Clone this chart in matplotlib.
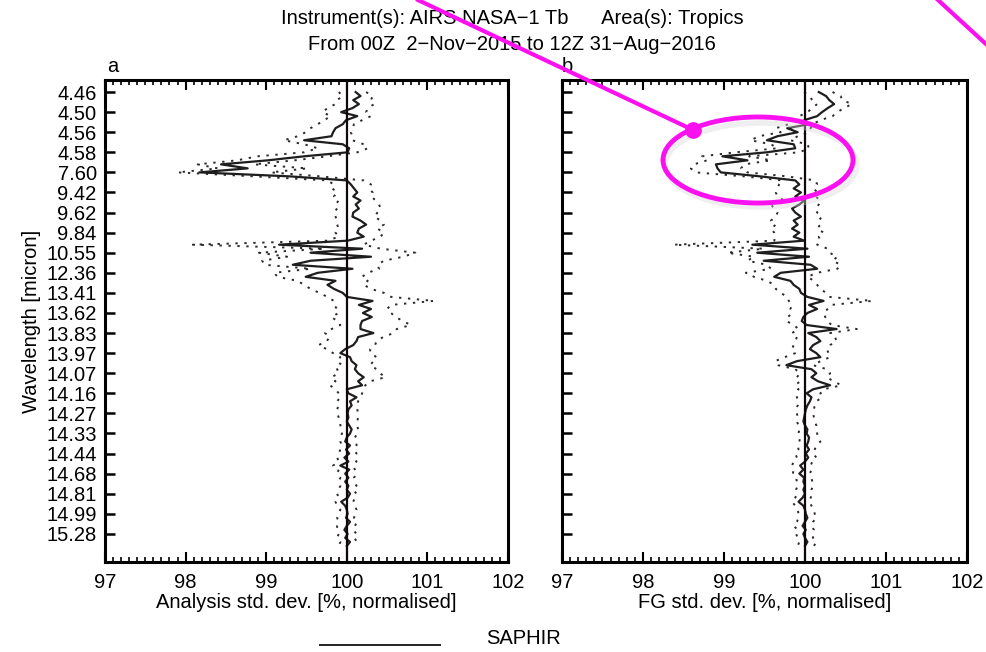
import matplotlib
matplotlib.use("Agg")
import matplotlib.pyplot as plt
from matplotlib.ticker import MultipleLocator, FixedLocator
from matplotlib.patches import Ellipse
from matplotlib.lines import Line2D
import numpy as np

plt.rcParams['font.family'] = ['Liberation Sans', 'DejaVu Sans']

# ---- data ----
tick_labels = ["4.46", "4.50", "4.56", "4.58", "7.60", "9.42", "9.62", "9.84", "10.55",
               "12.36", "13.41", "13.62", "13.83", "13.97", "14.07", "14.16", "14.27",
               "14.33", "14.44", "14.68", "14.81", "14.99", "15.28"]

an_mean = [100.11, 100.17, 100.08, 100.15, 100.07, 99.93, 100.13, 99.99, 99.95, 99.86,
           99.83, 99.81, 99.47, 99.95, 100.03, 100.01, 99.47, 99.02, 98.44, 98.77,
           98.17, 99.30, 100.00, 100.05, 100.09, 100.13, 100.08, 100.17, 100.11, 100.15,
           100.08, 100.07, 100.17, 100.24, 100.15, 100.13, 100.21, 100.01, 99.16, 100.19,
           99.55, 100.30, 99.55, 99.33, 100.07, 99.64, 99.49, 99.86, 99.76, 99.84,
           99.95, 100.00, 100.32, 100.15, 100.30, 100.20, 100.31, 100.19, 100.17, 100.17,
           100.33, 100.14, 100.12, 100.08, 99.98, 99.92, 100.04, 100.06, 100.12, 100.10,
           100.14, 100.21, 100.14, 100.19, 100.00, 100.02, 100.12, 100.04, 100.06, 100.02,
           100.01, 100.02, 100.00, 100.03, 100.06, 100.04, 100.00, 99.98, 100.04, 99.99,
           100.03, 99.97, 100.02, 99.92, 100.03, 99.98, 100.02, 99.98, 100.02, 100.00,
           100.04, 100.01, 99.93, 99.98, 100.00, 100.01, 99.99, 100.04, 100.00, 99.97,
           100.01, 99.98, 100.04, 100.00]

an_low = [99.90, 99.95, 99.88, 99.86, 99.76, 99.70, 99.80, 99.72, 99.64, 99.55,
          99.49, 99.39, 99.22, 99.47, 99.64, 99.47, 98.89, 98.64, 98.15, 98.40,
          97.90, 98.85, 99.76, 99.84, 99.82, 99.88, 99.84, 99.90, 99.86, 99.88,
          99.84, 99.86, 99.88, 99.88, 99.90, 99.86, 99.90, 99.76, 98.09, 99.72,
          98.91, 99.26, 98.95, 98.98, 99.55, 99.10, 99.14, 99.39, 99.47, 99.55,
          99.66, 99.76, 99.84, 99.84, 99.88, 99.90, 99.81, 99.88, 99.92, 99.81,
          99.73, 99.79, 99.75, 99.65, 99.75, 99.83, 99.92, 99.88, 99.94, 99.88,
          99.90, 99.81, 99.86, 99.79, 99.86, 99.90, 99.92, 99.88, 99.90, 99.88,
          99.88, 99.90, 99.92, 99.92, 99.94, 99.94, 99.92, 99.92, 99.94, 99.92,
          99.90, 99.88, 99.90, 99.83, 99.90, 99.88, 99.92, 99.90, 99.92, 99.90,
          99.88, 99.90, 99.86, 99.88, 99.92, 99.90, 99.88, 99.90, 99.88, 99.88,
          99.90, 99.88, 99.92, 99.90]

an_high = [100.24, 100.32, 100.30, 100.34, 100.26, 100.24, 100.30, 100.19, 100.09, 100.07,
           100.05, 100.07, 100.07, 100.21, 100.26, 100.13, 99.76, 99.35, 98.85, 99.51,
           99.06, 99.68, 100.21, 100.30, 100.28, 100.32, 100.30, 100.36, 100.40, 100.42,
           100.38, 100.34, 100.42, 100.46, 100.38, 100.46, 100.42, 100.30, 100.21, 100.42,
           100.85, 100.70, 100.46, 100.38, 100.40, 100.26, 100.19, 100.26, 100.21, 100.30,
           100.46, 100.55, 101.08, 100.55, 100.50, 100.55, 100.60, 100.70, 100.79, 100.62,
           100.58, 100.45, 100.37, 100.35, 100.29, 100.29, 100.37, 100.33, 100.29, 100.37,
           100.41, 100.48, 100.29, 100.23, 100.21, 100.19, 100.17, 100.14, 100.13, 100.13,
           100.14, 100.14, 100.13, 100.13, 100.14, 100.13, 100.10, 100.12, 100.12, 100.10,
           100.12, 100.10, 100.12, 100.08, 100.10, 100.12, 100.09, 100.10, 100.12, 100.08,
           100.12, 100.10, 100.08, 100.10, 100.12, 100.10, 100.09, 100.13, 100.10, 100.08,
           100.12, 100.09, 100.13, 100.10]

fg_mean = [100.17, 100.26, 100.30, 100.36, 100.28, 100.21, 100.15, 99.99, 100.05, 99.78,
           99.91, 99.66, 99.53, 99.86, 99.88, 99.53, 98.98, 99.29, 98.90, 98.92,
           98.96, 99.45, 99.88, 99.93, 99.86, 99.95, 99.88, 99.99, 99.93, 99.84,
           99.88, 99.95, 99.86, 99.91, 99.84, 99.93, 99.86, 99.99, 99.35, 100.03,
           99.41, 100.05, 99.49, 100.07, 100.15, 99.70, 99.62, 99.82, 99.86, 99.93,
           99.95, 100.03, 100.23, 100.05, 100.15, 100.03, 99.98, 99.96, 100.02, 100.39,
           100.04, 100.14, 100.19, 100.10, 100.06, 100.14, 100.19, 99.90, 99.77, 100.08,
           100.14, 100.08, 100.16, 100.31, 100.10, 100.02, 100.08, 100.06, 100.03, 100.01,
           100.00, 99.99, 99.98, 100.00, 100.03, 100.02, 100.05, 100.04, 100.02, 100.05,
           100.01, 100.04, 100.00, 99.94, 99.98, 99.93, 99.99, 99.98, 100.00, 99.98,
           100.00, 99.97, 99.92, 99.98, 100.00, 100.01, 100.03, 100.00, 99.97, 100.01,
           99.98, 100.00, 100.03, 100.00]

fg_low = [99.99, 100.05, 100.09, 100.15, 100.09, 100.03, 99.93, 99.88, 99.80, 99.64,
          99.70, 99.43, 99.33, 99.58, 99.66, 99.14, 98.73, 98.79, 98.63, 98.59,
          98.65, 99.25, 99.72, 99.68, 99.66, 99.64, 99.66, 99.74, 99.58, 99.62,
          99.66, 99.64, 99.58, 99.64, 99.58, 99.62, 99.64, 99.62, 98.38, 99.49,
          99.04, 99.37, 99.29, 99.53, 99.58, 99.27, 99.37, 99.53, 99.62, 99.64,
          99.70, 99.78, 99.80, 99.84, 99.82, 99.84, 99.79, 99.77, 99.86, 99.92,
          99.84, 99.90, 99.88, 99.86, 99.84, 99.88, 99.75, 99.63, 99.67, 99.88,
          99.94, 99.90, 99.94, 99.88, 99.92, 99.89, 99.90, 99.92, 99.91, 99.89,
          99.90, 99.91, 99.90, 99.92, 99.93, 99.92, 99.94, 99.93, 99.91, 99.92,
          99.88, 99.90, 99.86, 99.84, 99.86, 99.85, 99.89, 99.90, 99.91, 99.89,
          99.90, 99.88, 99.84, 99.88, 99.91, 99.92, 99.92, 99.90, 99.86, 99.91,
          99.89, 99.91, 99.93, 99.91]

fg_high = [100.34, 100.44, 100.46, 100.58, 100.48, 100.40, 100.34, 100.19, 100.09, 100.07,
           100.05, 99.91, 99.82, 100.03, 100.05, 99.93, 99.31, 99.58, 99.25, 99.21,
           99.29, 99.78, 100.13, 100.15, 100.11, 100.15, 100.13, 100.19, 100.17, 100.13,
           100.15, 100.21, 100.17, 100.19, 100.15, 100.23, 100.17, 100.19, 100.15, 100.28,
           100.30, 100.40, 100.34, 100.44, 100.40, 100.15, 100.03, 100.11, 100.15, 100.19,
           100.26, 100.30, 100.83, 100.32, 100.28, 100.23, 100.25, 100.27, 100.33, 100.64,
           100.31, 100.37, 100.39, 100.31, 100.27, 100.29, 100.31, 100.19, 100.10, 100.27,
           100.31, 100.27, 100.35, 100.45, 100.23, 100.19, 100.21, 100.14, 100.12, 100.11,
           100.10, 100.11, 100.12, 100.14, 100.14, 100.15, 100.16, 100.19, 100.14, 100.12,
           100.10, 100.14, 100.09, 100.07, 100.08, 100.06, 100.08, 100.09, 100.10, 100.08,
           100.09, 100.07, 100.05, 100.08, 100.11, 100.12, 100.14, 100.10, 100.08, 100.11,
           100.09, 100.10, 100.14, 100.11]

legend_label = "SAPHIR"

# ---- figure ----
W, H = 987, 652
fig = plt.figure(figsize=(W / 100, H / 100), dpi=100)

def fx(px):
    return px / W

def fy(py):
    return 1 - py / H

top, bot = 80, 562
axL = fig.add_axes([fx(105), fy(bot), fx(508 - 105), (bot - top) / H])
axR = fig.add_axes([fx(562), fy(bot), fx(967 - 562), (bot - top) / H])

chan = np.arange(len(an_mean))
tick_pos = np.arange(0, 5 * len(tick_labels), 5)

FS = 14.5
for ax, m, lo, hi, lab in [(axL, an_mean, an_low, an_high, "Analysis std. dev. [%, normalised]"),
                           (axR, fg_mean, fg_low, fg_high, "FG std. dev. [%, normalised]")]:
    ax.plot(m, chan, color='#1e1e1e', lw=1.6, zorder=3)
    ax.plot(lo, chan, color='#2a2a2a', lw=1.4, ls=(0, (1.2, 3.4)), zorder=2)
    ax.plot(hi, chan, color='#2a2a2a', lw=1.4, ls=(0, (1.2, 3.4)), zorder=2)
    ax.axvline(100, color='#100808', lw=1.6, zorder=4)
    ax.set_xlim(97, 102)
    ax.set_ylim(117, -3)
    ax.xaxis.set_major_locator(MultipleLocator(1))
    ax.xaxis.set_minor_locator(MultipleLocator(0.1))
    ax.yaxis.set_major_locator(FixedLocator(tick_pos))
    ax.tick_params(axis='x', which='major', direction='in', length=7, width=1.5,
                   top=True, bottom=True, labelsize=FS, pad=8)
    ax.tick_params(axis='x', which='minor', direction='in', length=3.5, width=1.2,
                   top=True, bottom=True)
    ax.tick_params(axis='y', which='major', direction='in', length=7, width=1.8,
                   left=True, right=False, labelsize=FS, pad=6)
    for s in ax.spines.values():
        s.set_linewidth(2.2)
    ax.set_xlabel(lab, fontsize=FS, labelpad=1)

axL.set_yticklabels(tick_labels)
axR.set_yticklabels([])
axL.set_ylabel("Wavelength [micron]", fontsize=FS, labelpad=4)

fig.text(fx(107), fy(67), "a", fontsize=FS, ha='left', va='center')
fig.text(fx(562), fy(67), "b", fontsize=FS, ha='left', va='center')
fig.text(fx(512), fy(18), "Instrument(s): AIRS NASA\u22121 Tb      Area(s): Tropics",
         fontsize=FS, ha='center', va='center')
fig.text(fx(512), fy(45), "From 00Z  2\u2212Nov\u22122015 to 12Z 31\u2212Aug\u22122016",
         fontsize=FS, ha='center', va='center')

# legend
fig.add_artist(Line2D([fx(320), fx(440)], [fy(645), fy(645)], color='#222222', lw=1.4))
fig.text(fx(486), fy(638), legend_label, fontsize=FS, ha='left', va='center')

# magenta annotation overlay
ov = fig.add_axes([0, 0, 1, 1], zorder=10)
ov.set_xlim(0, W)
ov.set_ylim(H, 0)
ov.axis('off')
ov.patch.set_alpha(0)
mag = '#fb10f0'
ov.add_patch(Ellipse((761, 165), 192, 84, fill=False, ec='#d8d8d8', lw=4, alpha=0.4))
ov.add_patch(Ellipse((758, 160), 190, 86, fill=False, ec=mag, lw=3.5))
ov.plot([418, 693], [0, 130], color=mag, lw=3)
ov.plot([693], [130], 'o', color=mag, ms=11)
ov.plot([938, 987], [0, 45], color=mag, lw=3)

fig.savefig("out.png", dpi=100)
